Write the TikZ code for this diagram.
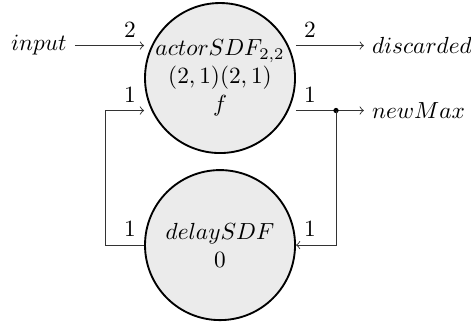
\documentclass[tikz,border=0pt]{standalone}
\usepackage{amssymb}
\usepackage{tikz}
\usepackage{xcolor}
\definecolor{actorc}{HTML}{EBEBEB}
\definecolor{channelc}{HTML}{333333}
\tikzset{
  actor/.style={circle, draw, thick, fill=actorc, minimum size=2.263cm, inner sep=0pt, align=center},
  channel/.style={->, draw=channelc},
}

\begin{document}
\begin{tikzpicture}
\useasboundingbox (-3.319,-3.681) rectangle (3.786,1.177);
\node[actor] (sdf) at (0.000,0) {$actorSDF_{2,2}$\\$(2,1)(2,1)$\\$f$};
\node[actor] (delay) at (0.000,-2.520) {$delaySDF$\\$0$};
\node[anchor=east] (input) at (-2.190,0.490) {$input$};
\node[anchor=west] (discarded) at (2.170,0.490) {$discarded$};
\node[anchor=west] (newmax) at (2.170,-0.490) {$newMax$};
\coordinate (split) at (1.750,-0.490);
\coordinate (back) at (-1.735,-0.490);
\draw[channel] (input.east) -- (sdf.west |- input) node[above left] {2};
\draw[channel] (sdf.east |- discarded) node[above right] {2} -- (discarded.west);
\draw[channel] (sdf.east |- newmax) node[above right] {1} -- (newmax.west);
\fill[black] (split) circle (0.040);
\draw[channel] (delay.west) node[above left] {1} -| (back) -- (sdf.west |- back) node[above left] {1};
\draw[channel] (split) |- (delay.east) node[above right] {1};
\end{tikzpicture}
\end{document}
